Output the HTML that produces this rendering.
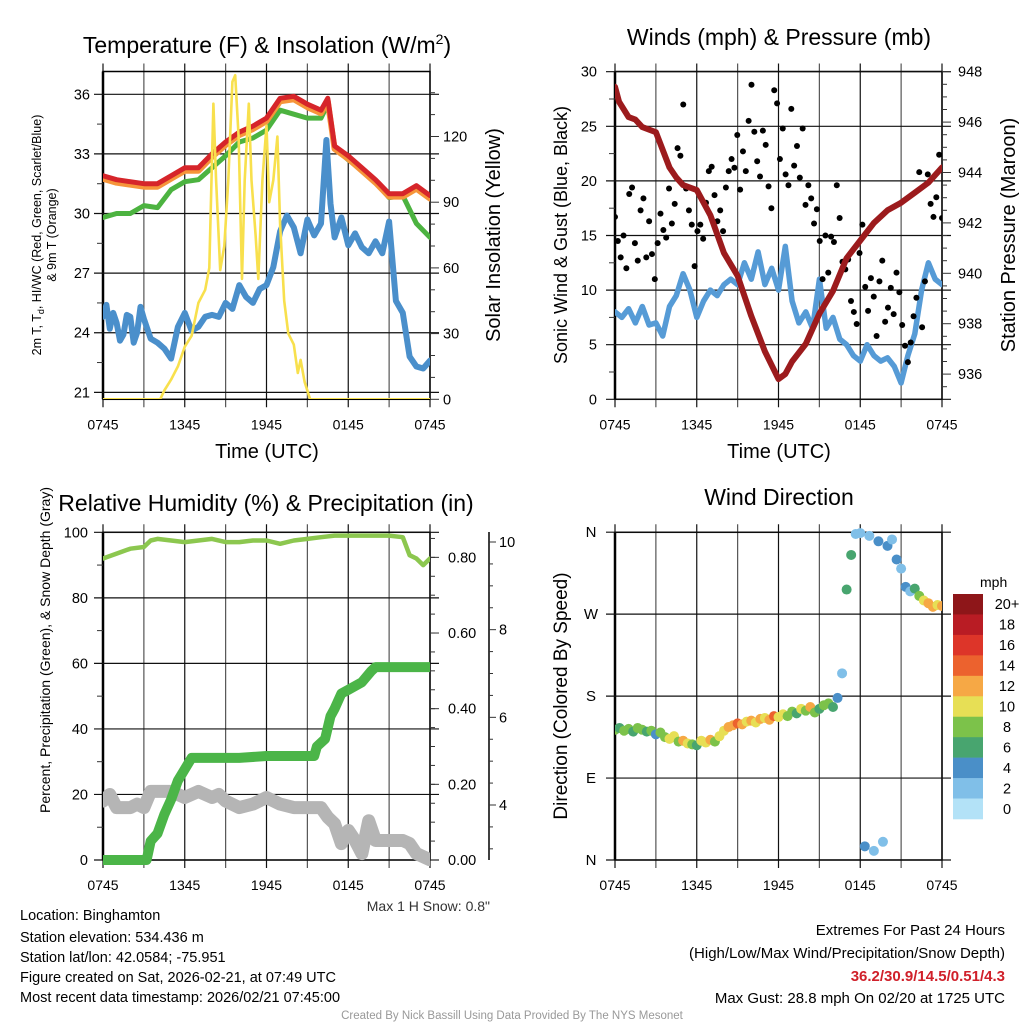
<!DOCTYPE html>
<html><head><meta charset="utf-8"><style>
body{margin:0;background:#fff}
svg{display:block;font-family:"Liberation Sans",sans-serif}
</style></head><body>
<svg id="c" width="1024" height="1024" viewBox="0 0 1024 1024" xmlns="http://www.w3.org/2000/svg">
<defs>
<clipPath id="cp1"><rect x="103" y="71" width="327" height="328"/></clipPath>
<clipPath id="cp2"><rect x="615" y="71" width="327" height="328"/></clipPath>
<clipPath id="cp3"><rect x="103" y="532" width="327" height="334"/></clipPath>
<clipPath id="cp4"><rect x="615" y="527" width="327" height="339"/></clipPath>
</defs>
<g id="p1"></g>
<g id="p2"></g>
<g id="p3"></g>
<g id="p4"></g>

<text x="267" y="53" font-size="23" text-anchor="middle">Temperature (F) &amp; Insolation (W/m<tspan dy="-9" font-size="14">2</tspan><tspan dy="9">)</tspan></text>
<text x="779" y="45" font-size="23" text-anchor="middle">Winds (mph) &amp; Pressure (mb)</text>
<text x="266" y="511" font-size="23" text-anchor="middle">Relative Humidity (%) &amp; Precipitation (in)</text>
<text x="779" y="505" font-size="23" text-anchor="middle">Wind Direction</text>

<text x="267" y="458" font-size="20" text-anchor="middle">Time (UTC)</text>
<text x="779" y="458" font-size="20" text-anchor="middle">Time (UTC)</text>

<text transform="translate(41,235) rotate(-90)" font-size="12.5" text-anchor="middle">2m T, T<tspan dy="3" font-size="9">d</tspan><tspan dy="-3">, HI/WC (Red, Green, Scarlet/Blue)</tspan></text>
<text transform="translate(56,235) rotate(-90)" font-size="12.5" text-anchor="middle">&amp; 9m T (Orange)</text>
<text transform="translate(500,235) rotate(-90)" font-size="20" text-anchor="middle">Solar Insolation (Yellow)</text>
<text transform="translate(567,235) rotate(-90)" font-size="18" text-anchor="middle">Sonic Wind &amp; Gust (Blue, Black)</text>
<text transform="translate(1015,235) rotate(-90)" font-size="20" text-anchor="middle">Station Pressure (Maroon)</text>
<text transform="translate(50,650) rotate(-90)" font-size="14" text-anchor="middle">Percent, Precipitation (Green), &amp; Snow Depth (Gray)</text>
<text transform="translate(567,696) rotate(-90)" font-size="19" text-anchor="middle">Direction (Colored By Speed)</text>

<text x="490" y="911" font-size="14" text-anchor="end" fill="#333">Max 1 H Snow: 0.8"</text>
<g font-size="14.5">
<text x="20" y="920">Location: Binghamton</text>
<text x="20" y="942">Station elevation: 534.436 m</text>
<text x="20" y="962">Station lat/lon: 42.0584; -75.951</text>
<text x="20" y="982">Figure created on Sat, 2026-02-21, at 07:49 UTC</text>
<text x="20" y="1002">Most recent data timestamp: 2026/02/21 07:45:00</text>
</g>
<g font-size="15" text-anchor="end">
<text x="1005" y="935">Extremes For Past 24 Hours</text>
<text x="1005" y="958">(High/Low/Max Wind/Precipitation/Snow Depth)</text>
<text x="1005" y="981" fill="#d0202a" font-weight="bold">36.2/30.9/14.5/0.51/4.3</text>
<text x="1005" y="1003">Max Gust: 28.8 mph On 02/20 at 1725 UTC</text>
</g>
<text x="512" y="1019" font-size="11.5" fill="#999" text-anchor="middle">Created By Nick Bassill Using Data Provided By The NYS Mesonet</text>
</svg>
<script>
// ---- data ----
const xTickLabels = ['0745','1345','1945','0145','0745'];
const tHours = [0,1,2,3,4,5,6,7,8,9,10,11,12,13,14,15,16,16.5,17,18,19,20,21,22,23,24];
const tempRed = [31.9,31.7,31.6,31.5,31.5,31.9,32.3,32.3,33.0,33.6,34.1,34.4,34.8,35.8,35.9,35.5,35.2,35.8,33.4,32.9,32.3,31.7,31.0,31.0,31.4,30.9];
const tempGreen = [29.8,30.0,30.0,30.4,30.3,31.2,31.6,31.7,32.3,32.9,33.6,33.8,34.2,35.2,35.0,34.8,34.8,35.5,33.3,32.7,32.2,31.6,30.8,30.9,29.5,28.8];
const tempOrange = [31.75,31.55,31.45,31.35,31.35,31.75,32.15,32.15,32.85,33.45,33.95,34.25,34.65,35.65,35.75,35.35,35.05,35.65,33.25,32.75,32.15,31.55,30.85,30.85,31.25,30.75];
const dewHours = [0,0.25,0.5,0.75,1,1.25,1.5,1.75,2,2.25,2.5,2.75,3,3.25,3.5,4,4.5,5,5.5,6,6.5,7,7.5,8,8.5,9,9.5,10,10.5,11,11.5,12,12.5,13,13.5,14,14.5,15,15.5,16,16.4,16.7,17,17.5,18,18.5,19,19.5,20,20.5,21,21.5,22,22.5,23,23.5,24];
const dewBlue = [24.8,25.4,24.2,25.0,24.5,23.6,23.9,24.9,24.8,23.5,24.0,25.3,24.7,24.2,23.7,23.5,23.2,22.7,24.3,25.0,24.1,24.3,24.8,24.9,24.8,25.5,25.2,26.4,25.8,25.5,26.2,26.4,27.3,29.1,29.9,29.3,28.0,29.7,28.9,29.5,33.7,30.5,28.8,29.8,28.4,29.0,28.3,28.0,28.6,28.0,29.6,25.6,25.0,22.8,22.3,22.2,22.6];
const solarHours = [0,4.2,4.5,5,5.5,6,6.5,7,7.5,7.8,8.1,8.3,8.6,8.9,9.2,9.5,9.7,9.95,10.2,10.4,10.7,10.9,11.2,11.4,11.7,12.0,12.2,12.5,12.8,13.0,13.3,13.6,14.0,14.3,14.5,14.8,15.2,24];
const solarVals = [0,0,4,9,15,24,29,44,50,60,135,100,59,70,100,145,148,120,55,100,135,100,75,55,100,125,90,100,120,80,45,30,25,12,18,8,0,0];
const yTicksTemp = [21,24,27,30,33,36];
const yTicksSolar = [0,30,60,90,120];

const presHours = [0,0.3,1,1.5,2,3,4,4.5,5,6,7,8,9,10,11,12,12.5,13,14,15,16,17,18,19,20,21,22,23,24];
const presVals = [947.4,946.8,946.2,946.1,945.8,945.6,944.2,943.8,943.5,943.3,942.3,940.8,939.9,938.3,936.9,935.8,936.0,936.5,937.2,938.4,939.3,940.6,941.3,942.0,942.5,942.8,943.2,943.6,944.2];
const windVals = [8,7.5,8.3,7.0,8.5,6.8,7.0,5.8,8.5,9.5,11.5,10.0,7.5,9.0,10.0,9.5,10.5,11.0,10.5,12.5,11.0,13.5,10.5,12.0,10.0,14.0,9.0,7.0,8.0,6.5,11.0,6.5,7.5,5.5,5.0,4.0,3.5,5.0,4.0,3.5,3.8,3.0,1.5,4.0,6.0,10.0,12.5,11.0,10.5];
const gustVals = [16.7,14.5,13.0,15.0,12.0,18.8,19.4,14.3,12.7,17.3,18.4,13.0,
16.3,13.3,11.0,14.3,17.0,15.5,14.8,19.3,16.1,17.9,23.0,22.3,27.0,19.3,17.3,16.0,12.2,15.4,16.0,14.7,18.0,20.9,21.3,18.7,16.3,17.3,15.4,19.4,
20.9,22.0,21.2,24.2,19.2,22.7,20.9,25.5,28.8,24.5,21.8,20.4,24.6,23.3,19.5,17.5,28.3,27.1,22.0,24.8,20.6,19.6,26.6,21.4,23.2,20.3,24.8,17.8,19.6,18.4,16.1,17.4,14.5,11.0,15.0,11.6,14.9,14.4,19.6,16.6,12.6,
11.9,12.8,9.0,8.0,6.9,13.4,16.0,10.3,8.1,11.1,9.4,5.8,10.8,12.7,7.1,8.4,10.2,7.8,11.6,9.8,6.8,4.9,3.4,5.2,7.6,9.3,20.8,6.6,10.8,20.6,17.9,16.7,18.5,22.4,16.6];
const yTicksWind = [0,5,10,15,20,25,30];
const yTicksPres = [936,938,940,942,944,946,948];

const rhHours = [0,1,2,3,3.5,4,5,6,7,8,9,10,11,12,13,14,15,16,17,18,19,20,21,22,22.5,23,23.5,24];
const rhVals = [92,93.5,95,95.5,97.5,98,97.5,97,97.5,98,97,97,97.5,97.5,96.5,97.5,98,98.5,99,99,99,99,99,98.5,93,92,90,92];
const precipHours = [0,3.2,3.5,4,4.5,5,5.5,6,6.5,7,10,12,15.5,15.7,16.3,16.7,17,17.5,18,19,19.7,20,20.5,24];
const precipVals = [0,0,0.05,0.07,0.12,0.16,0.21,0.24,0.27,0.27,0.27,0.275,0.275,0.30,0.32,0.38,0.40,0.44,0.45,0.47,0.50,0.51,0.51,0.51];
const snowHours = [0,0.5,1,2,2.5,3,3.5,4,5,6,7,8,8.5,9,10,11,12,13,14,15,16,16.5,17,17.5,18,18.5,19,19.5,20,21,22,22.5,23,24];
const snowVals = [4.09,4.24,3.94,3.94,4.02,3.94,4.31,4.31,4.31,4.17,4.31,4.17,4.24,4.09,3.94,4.02,4.17,4.02,3.94,3.94,3.94,3.72,3.57,3.12,3.42,3.19,2.89,3.64,3.19,3.19,3.19,3.12,2.89,2.75];
const yTicksRH = [0,20,40,60,80,100];
const yTicksPrecip = [0,0.2,0.4,0.6,0.8];
const yTicksSnow = [4,6,8,10];

const dirVals = [143,145,142,144,141,145,143,141,142,138,140,135,133,136,130,131,128,127,126,131,129,132,130,136,142,146,148,150,149,152,153,151,155,156,154,158,157,160,158,163,161,166,164,168,162,166,170,172,168,178,205,297,335,358,359,15,356,10,350,20,345,352,330,320,300,295,298,290,285,282,278,280,279];
const dirSpeeds = [8,7,9,8,6,8,9,7,8,5,8,9,10,11,8,12,10,9,7,10,11,12,9,10,11,13,12,15,12,10,13,11,12,10,13,15,10,11,9,8,7,10,9,12,8,6,9,8,7,4,2,6,7,2,2,4,3,3,4,2,4,2,4,2,4,3,6,8,10,12,13,11,12];
const dirLabels = ['N','E','S','W','N'];
const speedLabels = ['20+','18','16','14','12','10','8','6','4','2','0'];
const speedColors = ['#b3e2f7','#80bfe8','#4a8fc8','#48a56f','#7cc24a','#e7df55','#f6a845','#ec622e','#dd3529','#b91c24','#8e1619'];

// ---- helpers ----
const NS='http://www.w3.org/2000/svg';
function el(tag, attrs, parent){const e=document.createElementNS(NS,tag);for(const k in attrs)e.setAttribute(k,attrs[k]);parent.appendChild(e);return e;}
function pathD(xs, ys, fx, fy){return xs.map((x,i)=>(i?'L':'M')+fx(x).toFixed(1)+','+fy(ys[i]).toFixed(1)).join('');}
function frame(g, x0, y0, x1, y1, name){
  for(let i=0;i<=8;i++){const x=x0+i*(x1-x0)/8;
    const l=el('line',{x1:x,y1:y0-8,x2:x,y2:y1+8,stroke:i%2?'#555':'#111','stroke-width':1.2},g);
    
    }
  const r=el('rect',{x:x0,y:y0,width:x1-x0,height:y1-y0,fill:'none',stroke:'#000','stroke-width':1.5},g);
  
  
  el('line',{x1:x0,y1:y0,x2:x0,y2:y1,stroke:'#000','stroke-width':2.5},g);
  xTickLabels.forEach((s,i)=>{const t=el('text',{x:x0+i*(x1-x0)/4,y:y1+30,'font-size':14,'text-anchor':'middle'},g);t.textContent=s;
    
    });
}
function hgrid(g,x0,x1,y,name){const l=el('line',{x1:x0-9,y1:y,x2:x1+9,y2:y,stroke:'#111','stroke-width':1.2},g);
  
  }
function tick(g,x,y,len){el('line',{x1:x,y1:y,x2:x+len,y2:y,stroke:'#333','stroke-width':1},g);}
function label(g,x,y,s,anchor,name,size){const t=el('text',{x:x,y:y+5,'font-size':size||14.5,'text-anchor':anchor},g);t.textContent=s;
  
  return t;}

// ---- panel 1 ----
(function(){
const g=document.getElementById('p1');
const X=h=>103+h*327/24, YL=v=>94.3+(36-v)*19.87, YR=v=>399.3-v*2.19;
frame(g,103,71.5,430,399.3,'p1');
yTicksTemp.forEach(v=>{hgrid(g,103,430,YL(v),'p1');label(g,90,YL(v),String(v),'end','p1-y-tick-label');});
for(let v=22.5;v<36;v+=3)tick(g,97,YL(v),6);
yTicksSolar.forEach(v=>{tick(g,430,YR(v),9);label(g,443,YR(v),String(v),'start','p1-right-tick-label');});
for(let v=10;v<=150;v+=10)if(v%30)tick(g,430,YR(v),5);
const c=el('g',{'clip-path':'url(#cp1)',fill:'none','stroke-linejoin':'round','stroke-linecap':'round'},g);
let p=el('path',{d:pathD(dewHours,dewBlue,X,YL),stroke:'#4a8fcb','stroke-width':6},c);


p=el('path',{d:pathD(tempGreen.map((_,i)=>tHours[i]),tempGreen,X,YL),stroke:'#4cb340','stroke-width':5},c);


p=el('path',{d:pathD(tHours,tempOrange,X,YL),stroke:'#f6953a','stroke-width':6},c);


p=el('path',{d:pathD(tHours,tempRed,X,YL),stroke:'#d6252a','stroke-width':5},c);


p=el('path',{d:pathD(solarHours,solarVals,X,YR),stroke:'#f8e04d','stroke-width':2.6},c);


})();

// ---- panel 2 ----
(function(){
const g=document.getElementById('p2');
const X=h=>615+h*327/24, YW=v=>399.3-v*10.92, YP=v=>71.7+(948-v)*25.2;
frame(g,615,71.5,942,399.3,'p2');
yTicksWind.forEach(v=>{hgrid(g,615,942,YW(v),'p2');label(g,597,YW(v),String(v),'end','p2-y-tick-label');});
for(let v=2.5;v<30;v+=5)tick(g,609,YW(v),6);
yTicksPres.forEach(v=>{tick(g,942,YP(v),9);label(g,958,YP(v),String(v),'start','p2-right-tick-label');});
for(let v=935.5;v<948;v+=0.5)if(v%2)tick(g,942,YP(v),5);
const c=el('g',{'clip-path':'url(#cp2)','stroke-linejoin':'round','stroke-linecap':'round'},g);
let p=el('path',{d:pathD(windVals.map((_,i)=>i*0.5),windVals,X,YW),stroke:'#569bd6','stroke-width':5.5,fill:'none'},c);


gustVals.forEach((v,i)=>{const d=el('circle',{cx:X(i*24/(gustVals.length-1)),cy:YW(v),r:3,fill:'#000'},c);
  
  });
p=el('path',{d:pathD(presHours,presVals,X,YP),stroke:'#9c1b1d','stroke-width':6},c);
p.setAttribute('fill','none');


})();

// ---- panel 3 ----
(function(){
const g=document.getElementById('p3');
const X=h=>103+h*327/24, YH=v=>860-v*3.277, YPr=v=>860-v*378.3, YS=v=>860-(v-2.745)*43.83;
frame(g,103,532.3,430,860,'p3');
yTicksRH.forEach(v=>{hgrid(g,103,430,YH(v),'p3');label(g,88,YH(v),String(v),'end','p3-y-tick-label');});
for(let v=10;v<100;v+=20)tick(g,97,YH(v),6);
yTicksPrecip.forEach(v=>{tick(g,430,YPr(v),9);label(g,448,YPr(v),v.toFixed(2),'start','p3-right-tick-label');});
for(let v=0.05;v<0.86;v+=0.05)tick(g,430,YPr(v),5);
const ax=el('line',{x1:489,y1:532,x2:489,y2:860,stroke:'#000','stroke-width':1.5},g);


yTicksSnow.forEach(v=>{tick(g,489,YS(v),7);label(g,499,YS(v),String(v),'start','snow-tick-label');});
for(let v=3;v<10.2;v+=0.5)if(v%2)tick(g,489,YS(v),4);
const c=el('g',{'clip-path':'url(#cp3)',fill:'none','stroke-linejoin':'round','stroke-linecap':'round'},g);
let p=el('path',{d:pathD(snowHours,snowVals,X,YS),stroke:'#b5b5b5','stroke-width':13},c);


p=el('path',{d:pathD(precipHours,precipVals,X,YPr),stroke:'#4bb548','stroke-width':10},c);


p=el('path',{d:pathD(rhHours,rhVals,X,YH),stroke:'#8cc74f','stroke-width':4.5},c);


})();

// ---- panel 4 ----
(function(){
const g=document.getElementById('p4');
const X=h=>615+h*327/24, YD=d=>860-d*0.9106;
frame(g,615,532.3,942,860,'p4');
dirLabels.forEach((s,i)=>{const v=i*90;hgrid(g,615,942,YD(v),'p4');label(g,591,YD(v),s,'middle','direction-tick-label',15);});
const c=el('g',{'clip-path':'url(#cp4)'},g);
dirVals.forEach((d,i)=>{const s=dirSpeeds[i];const idx=Math.min(10,Math.floor(s/2));
  const dot=el('circle',{cx:X(i/3),cy:YD(d),r:5,fill:speedColors[idx]},c);
  
  });
const lg=el('g',{},g);


const t=el('text',{x:980,y:587,'font-size':14},lg);t.textContent='mph';


const bh=225/11;
speedLabels.forEach((s,i)=>{const col=speedColors[10-i];
  const r=el('rect',{x:953,y:594+i*bh,width:30,height:bh+0.3,fill:col},lg);
  
  
  label(lg,1007,594+i*bh+bh/2,s,'middle','colorbar-label',14.5);});
})();
</script>
</body></html>
